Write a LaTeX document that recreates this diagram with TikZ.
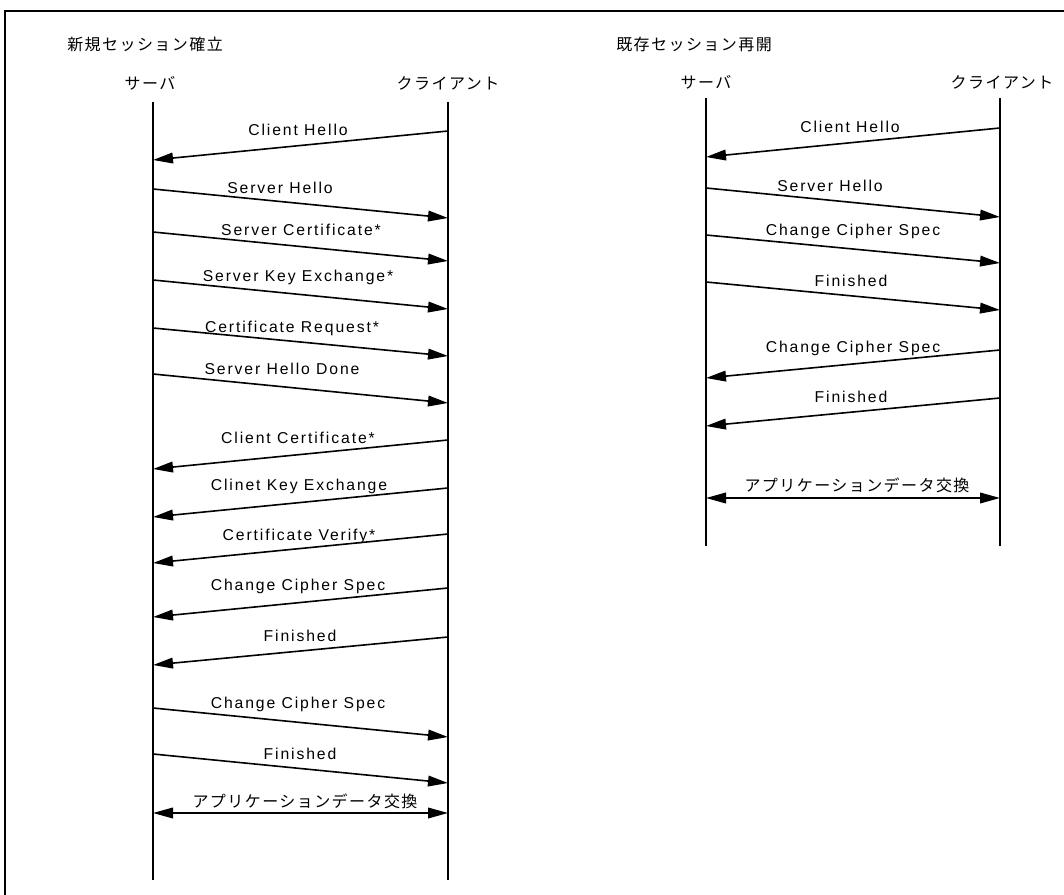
\documentclass[tikz,border=0pt]{standalone}
\usepackage{fontspec}
\usetikzlibrary{arrows.meta}
\newfontfamily\latfont[LetterSpace=12]{Liberation Sans}
\newfontfamily\jpfont[LetterSpace=9]{Noto Sans CJK JP}
\tikzset{
  frameline/.style={line width=1.3pt},
  lifeline/.style={line width=1.4pt},
  msgarrow/.style={line width=1.2pt,-{Triangle[length=15pt,width=8pt]}},
  dblarrow/.style={line width=1.2pt,{Triangle[length=15pt,width=8pt]}-{Triangle[length=15pt,width=8pt]}},
  lbl/.style={font=\latfont\fontsize{11.8pt}{14pt}\selectfont,inner sep=0pt},
  jlbl/.style={font=\jpfont\fontsize{12pt}{14pt}\selectfont,inner sep=0pt},
}
\begin{document}
\begin{tikzpicture}[x=0.75pt,y=-0.75pt]
\useasboundingbox (0,0) rectangle (1064,895);
% frame
\coordinate (fTR) at (1064,11);
\coordinate (fTL) at (5,11);
\coordinate (fBL) at (5,895);
\draw[frameline] (fTR) -- (fTL) -- (fBL);

% ===== left: new session =====
\node[jlbl,anchor=west] (h1) at (67,44) {新規セッション確立};
\node[jlbl] (srvL) at (150,83) {サーバ};
\node[jlbl] (cliL) at (448,83) {クライアント};
\coordinate (sLt) at (153,102);
\coordinate (sLb) at (153,880);
\coordinate (cLt) at (448,102);
\coordinate (cLb) at (448,880);
\draw[lifeline] (sLt) -- (sLb);
\draw[lifeline] (cLt) -- (cLb);

% messages
\coordinate (a1s) at (448,131); \coordinate (a1e) at (153,160);
\draw[msgarrow] (a1s) -- (a1e);
\node[lbl] (l1) at (298,130) {Client Hello};

\coordinate (a2s) at (153,189); \coordinate (a2e) at (448,218);
\draw[msgarrow] (a2s) -- (a2e);
\node[lbl] (l2) at (280,188) {Server Hello};

\coordinate (a3s) at (153,232); \coordinate (a3e) at (448,261);
\draw[msgarrow] (a3s) -- (a3e);
\node[lbl] (l3) at (301,230) {Server Certificate*};

\coordinate (a4s) at (153,280); \coordinate (a4e) at (448,309);
\draw[msgarrow] (a4s) -- (a4e);
\node[lbl] (l4) at (298,277) {Server Key Exchange*};

\coordinate (a5s) at (153,328); \coordinate (a5e) at (448,356);
\draw[msgarrow] (a5s) -- (a5e);
\node[lbl] (l5) at (292,328) {Certificate Request*};

\coordinate (a6s) at (153,374); \coordinate (a6e) at (448,403);
\draw[msgarrow] (a6s) -- (a6e);
\node[lbl] (l6) at (282,369) {Server Hello Done};

\coordinate (a7s) at (448,440); \coordinate (a7e) at (153,469);
\draw[msgarrow] (a7s) -- (a7e);
\node[lbl] (l7) at (298,438) {Client Certificate*};

\coordinate (a8s) at (448,488); \coordinate (a8e) at (153,517);
\draw[msgarrow] (a8s) -- (a8e);
\node[lbl] (l8) at (299,486) {Clinet Key Exchange};

\coordinate (a9s) at (448,534); \coordinate (a9e) at (153,563);
\draw[msgarrow] (a9s) -- (a9e);
\node[lbl] (l9) at (299,536) {Certificate Verify*};

\coordinate (a10s) at (448,588); \coordinate (a10e) at (153,617);
\draw[msgarrow] (a10s) -- (a10e);
\node[lbl] (l10) at (298,586) {Change Cipher Spec};

\coordinate (a11s) at (448,637); \coordinate (a11e) at (153,665);
\draw[msgarrow] (a11s) -- (a11e);
\node[lbl] (l11) at (300,636) {Finished};

\coordinate (a12s) at (153,708); \coordinate (a12e) at (448,737);
\draw[msgarrow] (a12s) -- (a12e);
\node[lbl] (l12) at (298,704) {Change Cipher Spec};

\coordinate (a13s) at (153,754); \coordinate (a13e) at (448,783);
\draw[msgarrow] (a13s) -- (a13e);
\node[lbl] (l13) at (300,754) {Finished};

\coordinate (a14s) at (153,813); \coordinate (a14e) at (448,813);
\draw[dblarrow] (a14s) -- (a14e);
\node[jlbl] (l14) at (305,801) {アプリケーションデータ交換};

% ===== right: resume session =====
\node[jlbl,anchor=west] (h2) at (616,44) {既存セッション再開};
\node[jlbl] (srvR) at (706,82) {サーバ};
\node[jlbl] (cliR) at (1002,82) {クライアント};
\coordinate (sRt) at (706,98);
\coordinate (sRb) at (706,546);
\coordinate (cRt) at (1000,98);
\coordinate (cRb) at (1000,546);
\draw[lifeline] (sRt) -- (sRb);
\draw[lifeline] (cRt) -- (cRb);

\coordinate (b1s) at (1000,128); \coordinate (b1e) at (706,157);
\draw[msgarrow] (b1s) -- (b1e);
\node[lbl] (m1) at (850,127) {Client Hello};

\coordinate (b2s) at (706,188); \coordinate (b2e) at (1000,217);
\draw[msgarrow] (b2s) -- (b2e);
\node[lbl] (m2) at (830,186) {Server Hello};

\coordinate (b3s) at (706,235); \coordinate (b3e) at (1000,263);
\draw[msgarrow] (b3s) -- (b3e);
\node[lbl] (m3) at (853,231) {Change Cipher Spec};

\coordinate (b4s) at (706,282); \coordinate (b4e) at (1000,310);
\draw[msgarrow] (b4s) -- (b4e);
\node[lbl] (m4) at (851,281) {Finished};

\coordinate (b5s) at (1000,350); \coordinate (b5e) at (706,378);
\draw[msgarrow] (b5s) -- (b5e);
\node[lbl] (m5) at (853,348) {Change Cipher Spec};

\coordinate (b6s) at (1000,398); \coordinate (b6e) at (706,426);
\draw[msgarrow] (b6s) -- (b6e);
\node[lbl] (m6) at (851,397) {Finished};

\coordinate (b7s) at (706,498); \coordinate (b7e) at (1000,498);
\draw[dblarrow] (b7s) -- (b7e);
\node[jlbl] (m7) at (857,485) {アプリケーションデータ交換};
\end{tikzpicture}
\end{document}
